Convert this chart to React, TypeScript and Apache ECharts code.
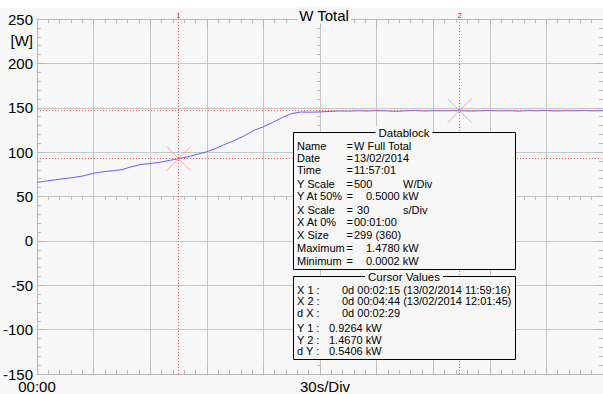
import React, { useEffect, useRef } from "react";
import * as echarts from "echarts";

// time offset in seconds (X At 0% = 00:01:00) and total power in W
const timeSec = [
  0, 5, 10, 15, 20, 25, 30, 35, 40, 45, 50, 55, 60, 65, 70, 75, 80, 85, 90, 95,
  100, 105, 110, 115, 120, 125, 130, 135, 140, 145, 150, 155, 160, 165, 170, 175, 180, 185, 190, 195,
  200, 205, 210, 215, 220, 225, 230, 235, 240, 245, 250, 255, 260, 265, 270, 275, 280, 285, 290, 295, 300,
];
const powerW = [
  66.0, 67.4, 68.9, 70.3, 71.6, 73.4, 76.2, 77.8, 79.0, 80.3, 83.4, 86.0, 87.2, 88.5, 90.6, 92.6, 94.8, 97.6, 100.4, 104.5,
  109.0, 113.5, 118.5, 124.5, 128.6, 133.5, 139.0, 143.5, 145.2, 145.0, 145.3, 145.8, 146.4, 146.2, 146.7, 146.4, 146.8, 146.5, 146.0, 146.6,
  146.9, 146.4, 146.7, 146.5, 146.8, 146.7, 146.3, 146.6, 146.9, 146.5, 146.7, 146.2, 146.8, 146.6, 146.9, 146.4, 146.7, 146.6, 146.8, 146.5, 146.7,
];

const cursorX = [75, 224];
const cursorY = [92.64, 146.7];
const cursorNames = ["1", "2"];

const chartTitle = "W Total";
const yUnit = "[W]";
const xScaleLabel = "30s/Div";
const xStartLabel = "00:00";

const dbLabels = ["Name", "Date", "Time", "Y Scale", "Y At 50%", "X Scale", "X At 0%", "X Size", "Maximum", "Minimum"];
const dbValues = ["W Full Total", "13/02/2014", "11:57:01", "500", "0.5000 kW", " 30", "00:01:00", "299 (360)", "1.4780 kW", "0.0002 kW"];
const dbUnits = ["", "", "", "W/Div", "", "s/Div", "", "", "", ""];
const dbIndented = [false, false, false, false, true, false, false, false, true, true];

const cvLabels = ["X 1 :", "X 2 :", "d X :", "Y 1 :", "Y 2 :", "d Y :"];
const cvValues = [
  "0d 00:02:15 (13/02/2014 11:59:16)",
  "0d 00:04:44 (13/02/2014 12:01:45)",
  "0d 00:02:29",
  "0.9264 kW",
  "1.4670 kW",
  "0.5406 kW",
];

const FONT = '"Liberation Sans", Arial, sans-serif';
const BG = "#f7f7f7";
const GRID = "#c6c6c6";
const AXIS = "#b8b8b8";

function txt(x: number, y: number, text: string, opts: any = {}) {
  return {
    type: "text",
    x,
    y,
    z: 110,
    silent: true,
    style: {
      text,
      font: `${opts.size || 11}px ${FONT}`,
      fill: opts.fill || "#000",
      align: opts.align || "left",
      verticalAlign: "middle",
      textAlign: opts.align || "left",
      textVerticalAlign: "middle",
      backgroundColor: opts.bg,
      padding: opts.padding,
    },
  };
}

export default function App() {
  const ref = useRef<HTMLDivElement>(null);
  useEffect(() => {
    if (!ref.current) return;
    const chart = echarts.init(ref.current, null, { renderer: "svg" });

    const tickStyle = { color: AXIS };
    const xBase = {
      type: "value",
      min: 0,
      max: 300,
      interval: 30,
      axisLine: { show: true, onZero: false, lineStyle: { color: AXIS, width: 1 } },
      axisTick: { show: true, inside: true, length: 8, lineStyle: tickStyle },
      minorTick: { show: true, splitNumber: 5, length: 4, lineStyle: tickStyle },
      splitLine: { show: false },
      axisLabel: { show: false },
    };
    const yBase = {
      type: "value",
      min: -150,
      max: 250,
      interval: 50,
      axisLine: { show: true, onZero: false, lineStyle: { color: AXIS, width: 1 } },
      axisTick: { show: true, inside: true, length: 8, lineStyle: tickStyle },
      minorTick: { show: true, splitNumber: 5, length: 4, lineStyle: tickStyle },
      splitLine: { show: false },
      axisLabel: { show: false },
    };
    const centerLine = { show: false, onZero: false };
    const centerMinor = { show: true, splitNumber: 5, length: 3, lineStyle: tickStyle };

    const graphic: any[] = [
      { type: "rect", z: -10, silent: true, shape: { x: 0, y: 0, width: 603, height: 8 }, style: { fill: "#ffffff" } },
      txt(324, 15, chartTitle, { size: 15, align: "center", bg: BG, padding: [1, 2] }),
      txt(33, 40, yUnit, { size: 15, align: "right" }),
      txt(325, 386, xScaleLabel, { size: 15, align: "center" }),
      // Datablock
      {
        type: "rect", z: 100, silent: true,
        shape: { x: 293.5, y: 132.5, width: 222, height: 137 },
        style: { fill: BG, stroke: "#000", lineWidth: 1 },
      },
      txt(404, 132.5, "Datablock", { size: 11.5, align: "center", bg: BG, padding: [0, 3] }),
      // Cursor values
      {
        type: "rect", z: 100, silent: true,
        shape: { x: 293.5, y: 276.5, width: 222, height: 83 },
        style: { fill: BG, stroke: "#000", lineWidth: 1 },
      },
      txt(404, 276.5, "Cursor Values", { size: 11.5, align: "center", bg: BG, padding: [0, 3] }),
    ];

    const dbRowY = [146, 158, 169.5, 184, 196, 209.5, 222, 234.5, 248, 260.5];
    dbLabels.forEach((l, i) => {
      graphic.push(txt(297, dbRowY[i], l));
      graphic.push(txt(346.5, dbRowY[i], "="));
      graphic.push(txt(dbIndented[i] ? 366 : 354, dbRowY[i], dbValues[i]));
      if (dbUnits[i]) graphic.push(txt(403, dbRowY[i], dbUnits[i]));
    });
    const cvRowY = [289.5, 301, 313, 327.5, 339.5, 351];
    cvLabels.forEach((l, i) => {
      graphic.push(txt(297, cvRowY[i], l));
      graphic.push(txt(i < 3 ? 342 : 329, cvRowY[i], cvValues[i]));
    });

    const option: any = {
      animation: false,
      backgroundColor: BG,
      grid: { left: 37, right: 0, top: 19, bottom: 20, containLabel: false, outerBoundsMode: "none" },
      xAxis: [
        {
          ...xBase,
          position: "bottom",
          splitLine: { show: true, lineStyle: { color: GRID, width: 1 } },
          axisLabel: {
            show: true,
            color: "#000",
            fontSize: 15,
            fontFamily: FONT,
            margin: 5,
            showMinLabel: true,
            formatter: (v: number) => (v === 0 ? xStartLabel : ""),
          },
        },
        { ...xBase, position: "top" },
        { ...xBase, position: "bottom", offset: -177.5, axisLine: centerLine, axisTick: { show: false }, minorTick: centerMinor },
        { ...xBase, position: "bottom", offset: -177.5, axisLine: centerLine, axisTick: { show: false, inside: false }, minorTick: centerMinor },
      ],
      yAxis: [
        {
          ...yBase,
          position: "left",
          splitLine: { show: true, lineStyle: { color: GRID, width: 1 } },
          axisLabel: { show: true, color: "#000", fontSize: 15, fontFamily: FONT, margin: 4, padding: [4, 0, 0, 0] },
        },
        { ...yBase, position: "right" },
        { ...yBase, position: "left", offset: -283, axisLine: centerLine, axisTick: { show: false }, minorTick: centerMinor },
        { ...yBase, position: "left", offset: -283, axisLine: centerLine, axisTick: { show: false, inside: false }, minorTick: centerMinor },
      ],
      series: [
        {
          type: "line",
          xAxisIndex: 0,
          yAxisIndex: 0,
          data: timeSec.map((t, i) => [t, powerW[i]]),
          showSymbol: false,
          symbol: "none",
          lineStyle: { color: "#5f5fff", width: 1 },
          z: 3,
          markLine: {
            silent: true,
            symbol: ["none", "none"],
            lineStyle: { color: "#ff5a5a", width: 1, type: [1, 2] },
            data: [
              ...cursorX.map((x, i) => ({
                xAxis: x,
                label: { show: true, position: "end", formatter: cursorNames[i], color: "#e00000", fontSize: 7, distance: 0 },
              })),
              ...cursorY.map((y) => ({ yAxis: y, label: { show: false } })),
            ],
          },
        },
        {
          type: "scatter",
          xAxisIndex: 0,
          yAxisIndex: 0,
          data: cursorX.map((x, i) => [x, cursorY[i]]),
          symbol: "path://M0 0L10 10M10 0L0 10",
          symbolSize: 24,
          itemStyle: { color: "none", borderColor: "#ff8c8c", borderWidth: 1 },
          z: 4,
          silent: true,
        },
      ],
      graphic,
    };
    chart.setOption(option);
    return () => chart.dispose();
  }, []);

  return <div ref={ref} style={{ position: "absolute", left: 0, top: 0, width: 603, height: 394 }} />;
}
